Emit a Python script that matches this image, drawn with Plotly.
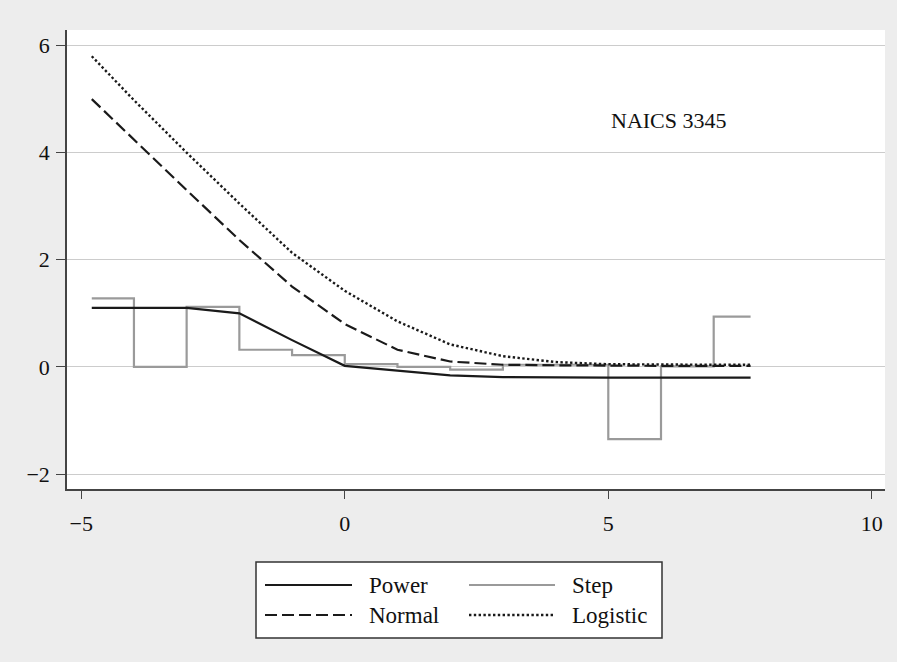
import plotly.graph_objects as go

# ---- data ----
x_grid = [-4.8, -4, -3, -2, -1, 0, 1, 2, 3, 4, 5, 6, 7, 7.7]
power = [1.1, 1.1, 1.1, 1.0, 0.5, 0.02, -0.07, -0.16, -0.19, -0.2, -0.2, -0.2, -0.2, -0.2]
normal = [5.0, 4.24, 3.3, 2.37, 1.5, 0.8, 0.32, 0.1, 0.04, 0.03, 0.02, 0.02, 0.02, 0.02]
logistic = [5.8, 4.98, 4.0, 3.05, 2.13, 1.42, 0.85, 0.42, 0.2, 0.09, 0.05, 0.04, 0.04, 0.04]
step_x = [-4.8, -4, -3, -2, -1, 0, 1, 2, 3, 4, 5, 6, 7, 7.7]
step_y = [1.28, 0.0, 1.12, 0.32, 0.22, 0.05, 0.0, -0.05, 0.04, 0.04, -1.35, 0.01, 0.94, 0.94]

x_ticks = [-5, 0, 5, 10]
x_ticklabels = ["\u22125", "0", "5", "10"]
y_ticks = [-2, 0, 2, 4, 6]
y_ticklabels = ["\u22122", "0", "2", "4", "6"]

series_names = ["Power", "Step", "Normal", "Logistic"]
annotation_text = "NAICS 3345"

FONT = "Liberation Serif"
W, H = 897, 662
L, R, T, B = 67, 12, 30, 173
PW, PH = W - L - R, H - T - B

DOT = dict(color="#1a1a1a", width=2.4, dash="2.4px,2.4px")
DASH = dict(color="#1a1a1a", width=2.2, dash="12px,5px")
SOLID = dict(color="#1a1a1a", width=2.2)
GRAY = dict(color="#9a9a9a", width=2.2)

fig = go.Figure()
fig.add_trace(go.Scatter(x=step_x, y=step_y, mode="lines", line_shape="hv",
                         name=series_names[1], line=GRAY))
fig.add_trace(go.Scatter(x=x_grid, y=normal, mode="lines", name=series_names[2], line=DASH))
fig.add_trace(go.Scatter(x=x_grid, y=logistic, mode="lines", name=series_names[3], line=DOT))
fig.add_trace(go.Scatter(x=x_grid, y=power, mode="lines", name=series_names[0], line=SOLID))


def px_x(p):
    return (p - L) / PW


def px_y(p):
    return (H - B - p) / PH


shapes = []
annotations = []
# legend box
shapes.append(dict(type="rect", xref="paper", yref="paper",
                   x0=px_x(256), x1=px_x(662), y0=px_y(638), y1=px_y(562),
                   line=dict(color="#333333", width=1.5), fillcolor="white", layer="above"))
legend_items = [
    (series_names[0], 265, 352, 367, 585, SOLID),
    (series_names[1], 469, 555, 570, 585, GRAY),
    (series_names[2], 265, 352, 367, 615, DASH),
    (series_names[3], 469, 555, 570, 615, DOT),
]
for name, lx0, lx1, tx, ly, ln in legend_items:
    shapes.append(dict(type="line", xref="paper", yref="paper",
                       x0=px_x(lx0), x1=px_x(lx1), y0=px_y(ly), y1=px_y(ly), line=ln,
                       layer="above"))
    annotations.append(dict(xref="paper", yref="paper", x=px_x(tx), y=px_y(ly),
                            text=name, showarrow=False, xanchor="left", yanchor="middle",
                            font=dict(family=FONT, size=23, color="#111111")))

annotations.append(dict(x=6.15, y=4.6, xref="x", yref="y", text=annotation_text,
                        showarrow=False, xanchor="center", yanchor="middle",
                        font=dict(family=FONT, size=22, color="#111111")))

fig.update_layout(
    width=W, height=H,
    margin=dict(l=L, r=R, t=T, b=B),
    paper_bgcolor="#ededed",
    plot_bgcolor="white",
    showlegend=False,
    shapes=shapes,
    annotations=annotations,
    font=dict(family=FONT, size=22, color="#111111"),
)
fig.update_xaxes(range=[-5.27, 10.25], tickvals=x_ticks, ticktext=x_ticklabels,
                 showgrid=False, zeroline=False, showline=True, linecolor="#444444",
                 linewidth=1.5, ticks="outside", ticklen=8, tickcolor="#444444",
                 tickwidth=1.2, ticklabelstandoff=6)
fig.update_yaxes(range=[-2.28, 6.29], tickvals=y_ticks, ticktext=y_ticklabels,
                 showgrid=True, gridcolor="#cccccc", gridwidth=1, zeroline=False,
                 showline=True, linecolor="#444444", linewidth=1.5, ticks="outside",
                 ticklen=9, tickcolor="#444444", tickwidth=1.2, ticklabelstandoff=2)

fig.write_html("out.html", config={"displayModeBar": False},
               post_script="document.body.style.margin='0';document.body.style.overflow='hidden';")
